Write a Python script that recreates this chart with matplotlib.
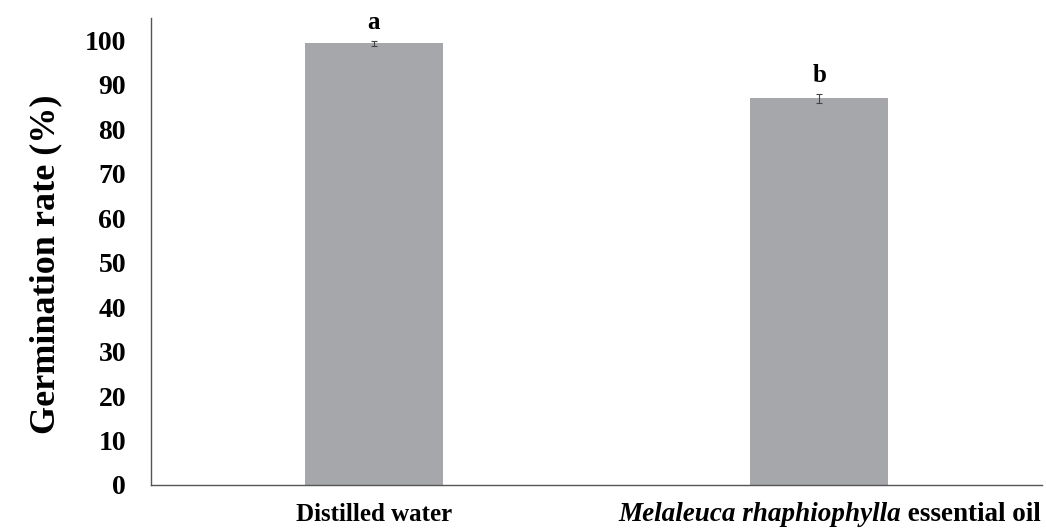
import matplotlib
matplotlib.use("Agg")
import matplotlib.pyplot as plt
import matplotlib.transforms as mtransforms

categories = ["Distilled water", "Melaleuca rhaphiophylla essential oil"]
label2_italic = "Melaleuca rhaphiophylla"
label2_rest = " essential oil"
values = [99.3, 87.0]
errors = [0.5, 1.0]
letters = ["a", "b"]
yticks = [0, 10, 20, 30, 40, 50, 60, 70, 80, 90, 100]

plt.rcParams['font.family'] = ['Liberation Serif', 'DejaVu Serif']

fig = plt.figure(figsize=(10.46, 5.30), dpi=100)
ax = fig.add_axes([151/1046, 45/530, (1042-151)/1046, (485-18)/530])

x = list(range(len(categories)))
ax.bar(x, values, width=0.31, color='#a6a7ab', zorder=2)
ax.errorbar(x, values, yerr=errors, fmt='none', ecolor='#444444',
            elinewidth=0.8, capsize=2.5, capthick=0.8, zorder=3)

for xi, v, e, l in zip(x, values, errors, letters):
    ax.annotate(l, (xi, v + e), xytext=(0, 5), textcoords='offset points',
                ha='center', va='bottom', fontsize=18, fontweight='bold')

ax.set_xlim(-0.5, 1.5)
ax.set_ylim(0, 105)
ax.set_yticks(yticks)
ax.set_yticklabels([str(t) for t in yticks], fontsize=20, fontweight='bold')
ax.tick_params(axis='y', length=0, pad=18)
ax.set_xticks(x)
ax.set_xticklabels([categories[0], ""], fontsize=18, fontweight='bold')
ax.tick_params(axis='x', length=0, pad=13)

for s in ['top', 'right']:
    ax.spines[s].set_visible(False)
for s in ['left', 'bottom']:
    ax.spines[s].set_color('#555555')
    ax.spines[s].set_linewidth(1.0)

ax.set_ylabel("Germination rate (%)", fontsize=26, fontweight='bold')
ax.yaxis.set_label_coords(-0.100, 0.473)

# mixed-style second category label
base = ax.get_xaxis_transform()
t1 = ax.text(1, 0, label2_italic, transform=base, ha='left', va='top',
             fontsize=19.5, fontweight='bold', fontstyle='italic')
t2 = ax.text(1, 0, label2_rest, transform=base, ha='left', va='top',
             fontsize=19.5, fontweight='bold')
fig.canvas.draw()
r = fig.canvas.get_renderer()
w1 = t1.get_window_extent(r).width
w2 = t2.get_window_extent(r).width
total = w1 + w2
shift = 10
t1.set_transform(mtransforms.offset_copy(base, fig, x=-total/2 + shift, y=-17, units='dots'))
t2.set_transform(mtransforms.offset_copy(base, fig, x=-total/2 + w1 + shift, y=-17, units='dots'))

fig.savefig("out.png", dpi=100)
